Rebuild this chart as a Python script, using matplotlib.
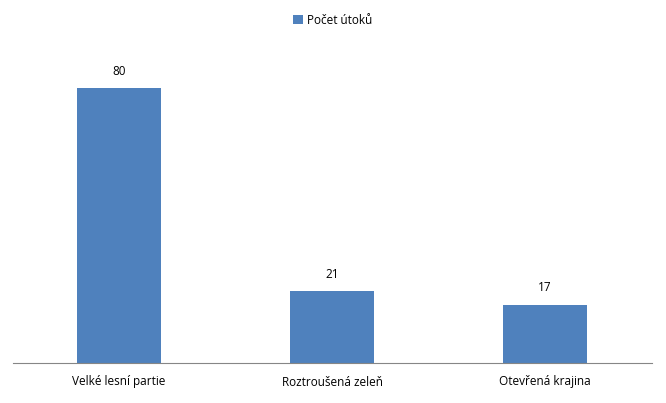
import matplotlib
matplotlib.use("Agg")
import matplotlib.pyplot as plt

categories = ["Velké lesní partie", "Roztroušená zeleň", "Otevřená krajina"]
values = [80, 21, 17]
series_name = "Počet útoků"

plt.rcParams['font.family'] = ['Open Sans', 'DejaVu Sans']
fig = plt.figure(figsize=(6.66, 4.03), dpi=100)
ax = fig.add_axes([12.5/666, 1-363/403, 639/666, 309/403])
x = range(len(categories))
bars = ax.bar(x, values, width=0.395, color="#4F81BD", label=series_name)
for xi, v in zip(x, values):
    ax.text(xi, v + 3, str(v), ha="center", va="bottom", fontsize=8.5, color="#000000")
ax.set_xlim(-0.5, 2.5)
ax.set_ylim(0, 90)
ax.set_xticks(list(x))
ax.set_xticklabels(categories, fontsize=8.5)
ax.tick_params(axis='x', length=0, pad=9)
ax.set_yticks([])
for s in ["top", "right", "left"]:
    ax.spines[s].set_visible(False)
ax.spines["bottom"].set_color("#868686")
fig.legend(handles=[bars], labels=[series_name], loc="center", bbox_to_anchor=(0.5, 1-20/403),
           frameon=False, fontsize=8.5, handlelength=0.8, handleheight=0.8, handletextpad=0.4)
fig.savefig("out.png", dpi=100)
